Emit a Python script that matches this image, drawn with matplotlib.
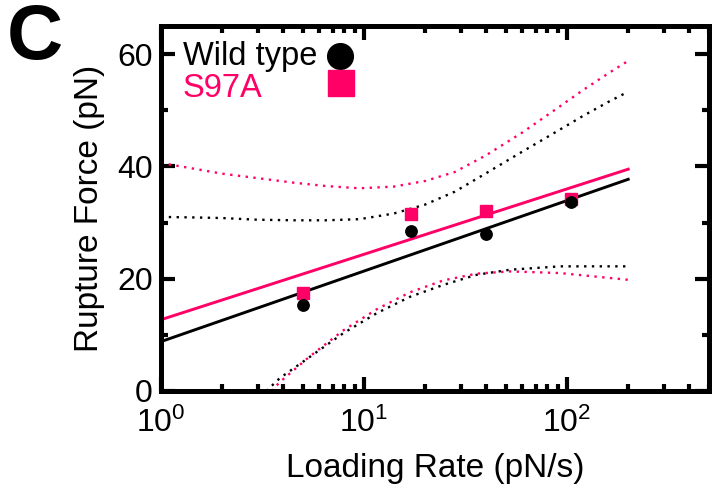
import matplotlib
matplotlib.use("Agg")
import matplotlib.pyplot as plt
from matplotlib.ticker import LogLocator, MultipleLocator, NullFormatter

plt.rcParams['font.family'] = ['Liberation Sans', 'DejaVu Sans']
plt.rcParams['mathtext.fontset'] = 'custom'
plt.rcParams['mathtext.rm'] = 'Liberation Sans'
plt.rcParams['mathtext.it'] = 'Liberation Sans:italic'
plt.rcParams['mathtext.bf'] = 'Liberation Sans:bold'

BLACK = '#000000'
PINK = '#FF0066'

# measured data points
rate_wt = [5, 17, 40, 105]
force_wt = [15.4, 28.5, 28.0, 33.6]
rate_s97a = [5, 17, 40, 105]
force_s97a = [17.5, 31.5, 32.0, 34.2]

# fitted lines (end points)
fit_rate = [1, 200]
fit_wt = [8.8, 37.7]
fit_s97a = [12.7, 39.5]

# upper confidence bands
upper_rate = [1, 1.5, 2, 3, 4.5, 6.5, 9.5, 14, 20, 28, 40, 60, 85, 120, 160, 200]
upper_wt = [31.0, 30.9, 30.8, 30.5, 30.4, 30.4, 30.6, 31.6, 33.2, 35.5, 38.8, 42.6,
            45.8, 49.0, 51.5, 53.3]
upper_s97a = [40.6, 39.5, 38.7, 37.9, 37.1, 36.5, 36.1, 36.4, 37.4, 39.0, 42.0, 46.0,
              49.8, 53.6, 56.6, 58.8]

# lower confidence bands
lower_rate_wt = [3.3, 3.85, 5.42, 7.91, 11.6, 16.9, 24.6, 35.9, 52.4, 92.5, 200]
lower_wt = [0.0, 2.3, 6.1, 10.3, 13.9, 16.8, 18.9, 20.7, 21.6, 22.2, 22.2]
lower_rate_s97a = [3.5, 3.85, 5.42, 7.91, 11.6, 16.9, 24.6, 35.9, 52.4, 92.5, 200]
lower_s97a = [0.0, 1.6, 6.2, 10.8, 14.6, 17.6, 19.7, 20.9, 21.3, 21.0, 19.8]

series_labels = ['Wild type', 'S97A']

fig = plt.figure(figsize=(7.14, 5.0), dpi=100)
ax = fig.add_axes([161/714, 1 - 391/500, (709 - 161)/714, (391 - 26)/500])

dot = (0, (1, 2.3))
ax.plot(upper_rate, upper_wt, color=BLACK, lw=1.7, ls=dot)
ax.plot(lower_rate_wt, lower_wt, color=BLACK, lw=1.7, ls=dot)
ax.plot(upper_rate, upper_s97a, color=PINK, lw=1.7, ls=dot)
ax.plot(lower_rate_s97a, lower_s97a, color=PINK, lw=1.7, ls=dot)

ax.plot(fit_rate, fit_wt, color=BLACK, lw=2.1)
ax.plot(fit_rate, fit_s97a, color=PINK, lw=2.1)

ax.plot(rate_s97a, force_s97a, ls='none', marker='s', ms=8.0, color=PINK, zorder=3)
ax.plot(rate_wt, force_wt, ls='none', marker='o', ms=8.2, color=BLACK, zorder=4)

ax.set_xscale('log')
ax.set_xlim(1, 500)
ax.set_ylim(0, 65)
ax.set_yticks([0, 20, 40, 60])
ax.yaxis.set_minor_locator(MultipleLocator(10))
ax.xaxis.set_major_locator(LogLocator(base=10, numticks=10))
ax.xaxis.set_minor_locator(LogLocator(base=10, subs=range(2, 10), numticks=20))
ax.xaxis.set_minor_formatter(NullFormatter())

for s in ax.spines.values():
    s.set_linewidth(3.6)
ax.tick_params(which='both', direction='in', top=True, right=True, width=3.0,
               labelsize=23)
ax.tick_params(axis='y', pad=6)
ax.tick_params(axis='x', pad=12)
ax.tick_params(which='major', length=10)
ax.tick_params(which='minor', length=5)

ax.set_xlabel('Loading Rate (pN/s)', fontsize=24, labelpad=10)
ax.set_ylabel('Rupture Force (pN)', fontsize=24, labelpad=9)

# legend: left-aligned labels, markers in a column to their right
ax.text(0.040, 0.893, series_labels[0], transform=ax.transAxes, fontsize=23.5,
        color=BLACK, ha='left', va='baseline')
ax.text(0.040, 0.805, series_labels[1], transform=ax.transAxes, fontsize=23.5,
        color=PINK, ha='left', va='baseline')
ax.plot([0.327], [0.918], transform=ax.transAxes, marker='o', ms=18.5,
        color=BLACK, ls='none', clip_on=False)
ax.plot([0.329], [0.844], transform=ax.transAxes, marker='s', ms=18.5,
        color=PINK, ls='none', clip_on=False)

fig.text(0.010, 0.995, 'C', fontsize=56, fontweight='bold', va='top', ha='left')

fig.savefig('out.png', dpi=100)
